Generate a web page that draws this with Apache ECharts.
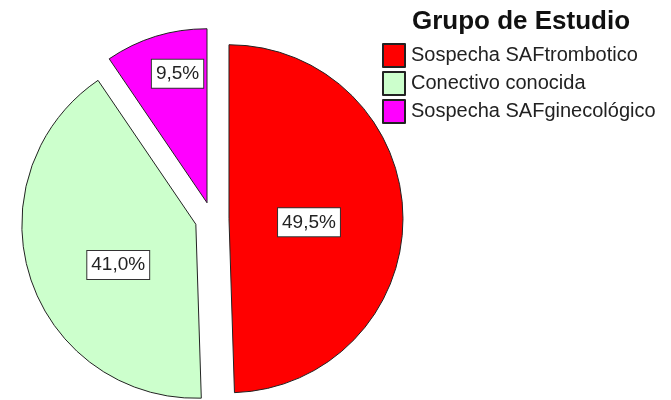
<!DOCTYPE html>
<html>
<head>
<meta charset="utf-8">
<script src="https://cdn.jsdelivr.net/npm/echarts@6/dist/echarts.min.js"></script>
<style>
  html, body { margin: 0; padding: 0; background: #fff; }
  #pie { width: 671px; height: 400px; }
</style>
</head>
<body>
<div id="pie"></div>
<script>
// categorias y porcentajes
var grupos = ['Sospecha SAFtrombotico', 'Conectivo conocida', 'Sospecha SAFginecológico'];
var porcentajes = [49.5, 41.0, 9.5];
var colores = ['#ff0000', '#ccffcc', '#ff00ff'];

var myPie = echarts.init(document.getElementById('pie'));

// ajuste fino de las etiquetas (dx, dy) respecto a la posicion 'inside'
var labelShift = [[-10, 5], [8, 13], [-3, -43]];

var option = {
  animation: false,
  textStyle: { fontFamily: 'Liberation Sans, Arial, sans-serif' },
  title: {
    text: 'Grupo de Estudio',
    left: 407,
    top: 4,
    textStyle: { fontSize: 26, fontWeight: 'bold', color: '#111' }
  },
  legend: {
    orient: 'vertical',
    left: 377,
    top: 38,
    itemWidth: 22,
    itemHeight: 23,
    itemGap: 3,
    icon: 'rect',
    selectedMode: false,
    textStyle: { fontSize: 20, color: '#222', padding: [0, 0, 0, 1] },
    data: grupos
  },
  series: [
    {
      type: 'pie',
      center: [212, 219],
      radius: 174,
      startAngle: 90,
      clockwise: true,
      selectedMode: 'multiple',
      selectedOffset: 17,
      avoidLabelOverlap: false,
      emphasis: { disabled: true },
      itemStyle: { borderColor: '#222', borderWidth: 1 },
      label: {
        show: true,
        position: 'inside',
        fontSize: 19,
        color: '#222',
        backgroundColor: '#fff',
        borderColor: '#333',
        borderWidth: 1,
        padding: [5, 4, 4, 4],
        formatter: function (p) {
          return p.value.toFixed(1).replace('.', ',') + '%';
        }
      },
      labelLayout: function (p) {
        var s = labelShift[p.dataIndex];
        return { dx: s[0], dy: s[1] };
      },
      labelLine: { show: false },
      data: grupos.map(function (g, i) {
        return { name: g, value: porcentajes[i], selected: true, itemStyle: { color: colores[i] } };
      })
    }
  ]
};

myPie.setOption(option);
</script>
</body>
</html>
